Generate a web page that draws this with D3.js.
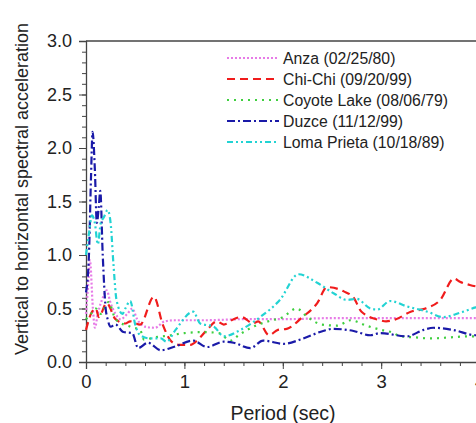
<!DOCTYPE html>
<html>
<head>
<meta charset="utf-8">
<script src="https://cdn.jsdelivr.net/npm/d3@7"></script>
<style>
  body { margin: 0; background: #fff; }
  svg { font-family: "Liberation Sans", Arial, sans-serif; }
</style>
</head>
<body>
<div id="chart"></div>
<script>
// series names and styles (legend order)
const seriesNames = ["Anza (02/25/80)", "Chi-Chi (09/20/99)", "Coyote Lake (08/06/79)", "Duzce (11/12/99)", "Loma Prieta (10/18/89)"];
const seriesColors = ["#e77be7", "#f01c1c", "#3fcf3f", "#1a1aa8", "#22d3d3"];
const seriesDash = ["2,2", "8,5", "2,5", "8,3,2,3", "6,3,2,3,2,3"];

// values (period in sec, V/H ratio)
const anzaT = [0, 0.02, 0.04, 0.07, 0.09, 0.12, 0.15, 0.18, 0.21, 0.25, 0.3, 0.35, 0.42, 0.47, 0.52, 0.6, 0.7, 0.8, 0.9, 1.2, 1.6, 2.0, 2.5, 3.0, 3.5, 4.0];
const anzaV = [0.45, 0.7, 0.95, 0.5, 0.32, 0.45, 0.55, 0.62, 0.67, 0.55, 0.45, 0.4, 0.45, 0.5, 0.4, 0.33, 0.32, 0.38, 0.39, 0.39, 0.4, 0.4, 0.41, 0.41, 0.41, 0.41];

const chichiT = [0, 0.05, 0.1, 0.13, 0.21, 0.3, 0.4, 0.45, 0.55, 0.69, 0.78, 0.87, 0.95, 1.06, 1.15, 1.23, 1.33, 1.4, 1.5, 1.58, 1.7, 1.75, 1.86, 1.95, 2.04, 2.2, 2.35, 2.45, 2.62, 2.72, 2.8, 2.99, 3.05, 3.15, 3.3, 3.45, 3.6, 3.74, 3.8, 3.9, 4.0];
const chichiV = [0.3, 0.45, 0.5, 0.42, 0.55, 0.4, 0.36, 0.38, 0.35, 0.61, 0.35, 0.19, 0.16, 0.16, 0.22, 0.3, 0.38, 0.35, 0.4, 0.42, 0.36, 0.38, 0.25, 0.3, 0.31, 0.42, 0.55, 0.7, 0.66, 0.6, 0.47, 0.39, 0.38, 0.4, 0.47, 0.5, 0.58, 0.78, 0.75, 0.72, 0.7];

const coyoteT = [0, 0.05, 0.1, 0.15, 0.23, 0.3, 0.45, 0.55, 0.59, 0.7, 0.86, 1.0, 1.2, 1.35, 1.47, 1.55, 1.7, 1.85, 2.0, 2.14, 2.25, 2.4, 2.55, 2.69, 2.85, 3.0, 3.1, 3.2, 3.35, 3.5, 3.7, 3.9, 4.0];
const coyoteV = [0.4, 0.45, 0.5, 0.45, 0.56, 0.4, 0.33, 0.3, 0.21, 0.23, 0.25, 0.27, 0.28, 0.27, 0.2, 0.25, 0.33, 0.38, 0.42, 0.5, 0.42, 0.35, 0.34, 0.39, 0.34, 0.3, 0.28, 0.24, 0.23, 0.22, 0.23, 0.24, 0.24];

const duzceT = [0, 0.03, 0.05, 0.067, 0.09, 0.11, 0.13, 0.145, 0.17, 0.2, 0.22, 0.25, 0.3, 0.38, 0.47, 0.53, 0.63, 0.76, 0.89, 1.09, 1.23, 1.4, 1.5, 1.67, 1.8, 2.01, 2.18, 2.41, 2.51, 2.72, 2.89, 2.99, 3.26, 3.43, 3.53, 3.73, 3.96, 4.0];
const duzceV = [0.65, 1.0, 1.7, 2.15, 1.8, 1.3, 1.45, 1.6, 1.0, 0.5, 0.4, 0.33, 0.35, 0.28, 0.27, 0.13, 0.18, 0.11, 0.14, 0.2, 0.14, 0.19, 0.18, 0.13, 0.2, 0.17, 0.21, 0.29, 0.31, 0.29, 0.25, 0.27, 0.24, 0.3, 0.32, 0.3, 0.25, 0.25];

const lomaT = [0, 0.03, 0.06, 0.09, 0.12, 0.15, 0.18, 0.22, 0.25, 0.28, 0.31, 0.37, 0.4, 0.45, 0.5, 0.55, 0.65, 0.76, 0.82, 0.91, 1.09, 1.16, 1.3, 1.4, 1.57, 1.77, 1.97, 2.16, 2.35, 2.52, 2.65, 2.75, 2.89, 2.96, 3.09, 3.26, 3.47, 3.63, 3.8, 3.96, 4.0];
const lomaV = [1.0, 1.2, 1.37, 1.3, 1.1, 1.3, 1.35, 1.42, 1.3, 0.9, 0.58, 0.45, 0.5, 0.57, 0.35, 0.25, 0.22, 0.22, 0.19, 0.3, 0.47, 0.36, 0.33, 0.24, 0.3, 0.42, 0.58, 0.82, 0.74, 0.64, 0.58, 0.59, 0.5, 0.49, 0.57, 0.52, 0.47, 0.42, 0.46, 0.51, 0.52];

const periodsList = [anzaT, chichiT, coyoteT, duzceT, lomaT];
const valuesList = [anzaV, chichiV, coyoteV, duzceV, lomaV];

const xTicks = [0, 1, 2, 3, 4];
const yTicks = [0, 0.5, 1.0, 1.5, 2.0, 2.5, 3.0];

// chart size
let svgWidth = 476;
let svgHeight = 423;
let margin = { top: 41, left: 86, bottom: 61 };
let plotWidth = 393.6;   // runs past the right edge, like the picture
let plotHeight = svgHeight - margin.top - margin.bottom;

var svg = d3.select("#chart")
  .append("svg")
  .attr("width", svgWidth)
  .attr("height", svgHeight);

var x = d3.scaleLinear().domain([0, 4]).range([margin.left, margin.left + plotWidth]);
var y = d3.scaleLinear().domain([0, 3]).range([margin.top + plotHeight, margin.top]);

// minor ticks first
svg.append("g")
  .attr("transform", `translate(0, ${y(0)})`)
  .call(d3.axisBottom(x).tickValues(d3.range(0, 4.01, 0.2)).tickSize(4).tickFormat(""))
  .call(g => g.select(".domain").remove());
svg.append("g")
  .attr("transform", `translate(${x(0)}, 0)`)
  .call(d3.axisLeft(y).tickValues(d3.range(0, 3.01, 0.1)).tickSize(4).tickFormat(""))
  .call(g => g.select(".domain").remove());

// major axes
var xAxis = svg.append("g")
  .attr("transform", `translate(0, ${y(0)})`)
  .call(d3.axisBottom(x).tickValues(xTicks).tickSize(7).tickPadding(6).tickFormat(d3.format("d")));
var yAxis = svg.append("g")
  .attr("transform", `translate(${x(0)}, 0)`)
  .call(d3.axisLeft(y).tickValues(yTicks).tickSize(7).tickPadding(7).tickFormat(d3.format(".1f")));

svg.selectAll(".tick line").attr("stroke", "#444");
svg.selectAll(".domain").attr("stroke", "#444").attr("stroke-width", 1.3);
xAxis.selectAll("text").attr("font-size", "18.5px").attr("fill", "#222").attr("font-family", "Liberation Sans, Arial, sans-serif");
yAxis.selectAll("text").attr("font-size", "18px").attr("fill", "#222").attr("font-family", "Liberation Sans, Arial, sans-serif");

// top frame line
svg.append("line")
  .attr("x1", x(0)).attr("x2", svgWidth)
  .attr("y1", y(3)).attr("y2", y(3))
  .attr("stroke", "#444")
  .attr("stroke-width", 1.3);

// the curves
var line = d3.line()
  .x(d => x(d[0]))
  .y(d => y(d[1]))
  .curve(d3.curveMonotoneX);

seriesNames.forEach(function(name, i) {
  var pts = periodsList[i].map((t, j) => [t, valuesList[i][j]]);
  svg.append("path")
    .datum(pts)
    .attr("d", line)
    .attr("fill", "none")
    .attr("stroke", seriesColors[i])
    .attr("stroke-width", 2.2)
    .attr("stroke-dasharray", seriesDash[i]);
});

// legend
var legend = svg.append("g");
seriesNames.forEach(function(name, i) {
  var ly = 58 + i * 21;
  legend.append("line")
    .attr("x1", 227).attr("x2", 279)
    .attr("y1", ly).attr("y2", ly)
    .attr("stroke", seriesColors[i])
    .attr("stroke-width", 2)
    .attr("stroke-dasharray", seriesDash[i]);
  legend.append("text")
    .attr("x", 283)
    .attr("y", ly + 6)
    .attr("font-size", "15.8px")
    .attr("fill", "#222")
    .text(name);
});

// axis titles
svg.append("text")
  .attr("transform", `translate(28, 189) rotate(-90)`)
  .attr("text-anchor", "middle")
  .attr("font-size", "18px")
  .attr("fill", "#222")
  .text("Vertical to horizontal spectral acceleration");

svg.append("text")
  .attr("x", 283)
  .attr("y", 420)
  .attr("text-anchor", "middle")
  .attr("font-size", "19.5px")
  .attr("fill", "#222")
  .text("Period (sec)");
</script>
</body>
</html>
